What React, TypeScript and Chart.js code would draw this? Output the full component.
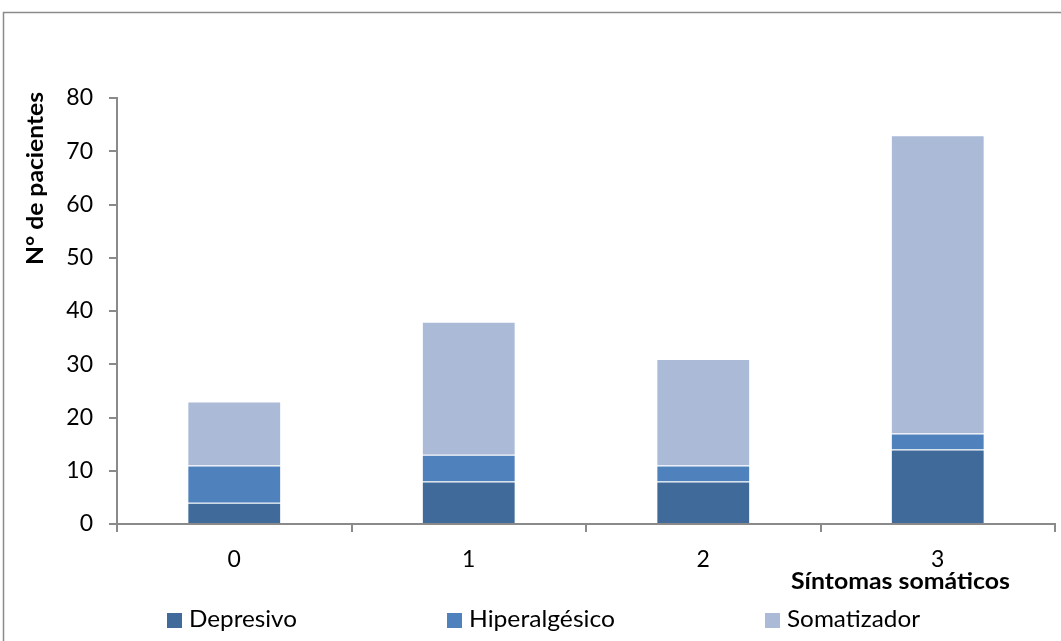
import React, { useEffect, useRef } from "react";
import { Chart, registerables } from "chart.js";

Chart.register(...registerables);

const categories = ["0", "1", "2", "3"];
const depresivo = [4, 8, 8, 14];
const hiperalgesico = [7, 5, 3, 3];
const somatizador = [12, 25, 20, 56];
const seriesNames = ["Depresivo", "Hiperalgésico", "Somatizador"];
const seriesColors = ["#3F6A9A", "#4F81BD", "#AABAD7"];
const yTitle = "N° de pacientes";
const xTitle = "Síntomas somáticos";

const FONT = "Lato, 'Open Sans', sans-serif";
const AXIS = "#8A8A8A";

function fitText(
  ctx: CanvasRenderingContext2D,
  text: string,
  x: number,
  y: number,
  width: number
) {
  const w = ctx.measureText(text).width;
  const sx = width / w;
  ctx.save();
  ctx.translate(x, y);
  ctx.scale(sx, 1);
  ctx.textAlign = "left";
  ctx.fillText(text, 0, 0);
  ctx.restore();
}

const decorPlugin = {
  id: "decor",
  afterDraw(chart: any) {
    const ctx = chart.ctx as CanvasRenderingContext2D;
    ctx.save();
    // outer frame
    ctx.strokeStyle = "#8A8A8A";
    ctx.lineWidth = 1.5;
    ctx.beginPath();
    ctx.moveTo(3.5, 641);
    ctx.lineTo(3.5, 12.5);
    ctx.lineTo(1061, 12.5);
    ctx.stroke();

    ctx.fillStyle = "#000";
    ctx.textBaseline = "middle";

    // y title (rotated)
    ctx.font = `bold 23px ${FONT}`;
    ctx.save();
    ctx.translate(36, 265);
    ctx.rotate(-Math.PI / 2);
    fitText(ctx, yTitle, 0, 0, 173);
    ctx.restore();

    // x title
    fitText(ctx, xTitle, 791, 582, 219);

    // legend
    ctx.font = `23px ${FONT}`;
    const xs = [167, 447, 765];
    const widths = [108, 146, 133];
    seriesNames.forEach((name, i) => {
      ctx.fillStyle = seriesColors[i];
      ctx.fillRect(xs[i], 613, 15, 15);
      ctx.fillStyle = "#000";
      fitText(ctx, name, xs[i] + 22, 620, widths[i]);
    });
    ctx.restore();
  },
};

export default function App() {
  const ref = useRef<HTMLCanvasElement | null>(null);
  useEffect(() => {
    if (!ref.current) return;
    const ds = [depresivo, hiperalgesico, somatizador].map((d, i) => ({
      label: seriesNames[i],
      data: d,
      backgroundColor: seriesColors[i],
      borderColor: "rgba(255,255,255,0.35)",
      borderWidth: 1,
      barPercentage: 0.4,
      categoryPercentage: 1,
    }));
    const chart = new Chart(ref.current, {
      type: "bar",
      data: { labels: categories, datasets: ds },
      options: {
        animation: false,
        responsive: false,
        maintainAspectRatio: false,
        layout: { padding: { left: 0, right: 6, top: 98, bottom: 0 } },
        plugins: { legend: { display: false }, tooltip: { enabled: false } },
        scales: {
          x: {
            stacked: true,
            afterFit: (s: any) => {
              s.height = 117;
            },
            grid: { offset: true, drawOnChartArea: false, tickLength: 8, color: AXIS, lineWidth: 2 },
            border: { color: AXIS, width: 2 },
            ticks: { color: "#000", font: { family: FONT, size: 23 }, padding: 14 },
          },
          y: {
            stacked: true,
            min: 0,
            max: 80,
            afterFit: (s: any) => {
              s.width = 117;
            },
            grid: { drawOnChartArea: false, tickLength: 8, color: AXIS, lineWidth: 2 },
            border: { color: AXIS, width: 2 },
            ticks: { stepSize: 10, color: "#000", font: { family: FONT, size: 23 }, padding: 16 },
          },
        },
      },
      plugins: [decorPlugin],
    });
    return () => chart.destroy();
  }, []);
  return (
    <div style={{ position: "fixed", left: 0, top: 0, width: 1061, height: 641, background: "#fff" }}>
      <canvas ref={ref} width={1061} height={641} style={{ display: "block" }} />
    </div>
  );
}
